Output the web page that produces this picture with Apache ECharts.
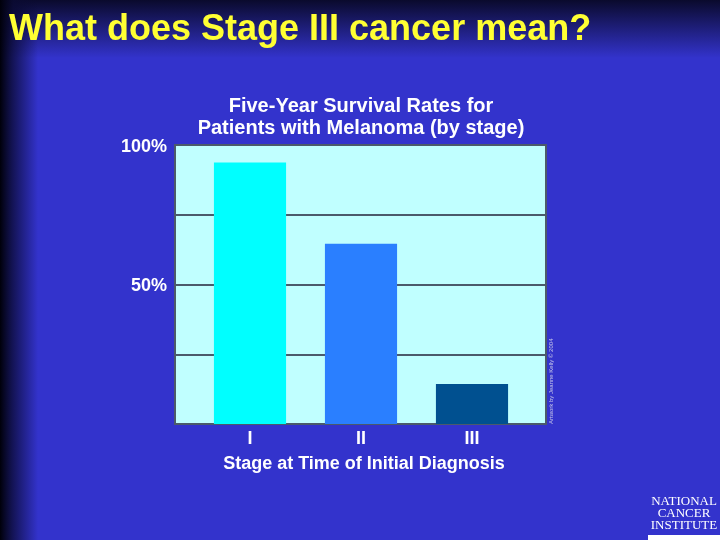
<!DOCTYPE html>
<html>
<head>
<meta charset="utf-8">
<script src="https://cdn.jsdelivr.net/npm/echarts@6/dist/echarts.min.js"></script>
<style>html,body{margin:0;padding:0;background:#3333cc;}#c{width:720px;height:540px;}</style>
</head>
<body>
<div id="c"></div>
<script>
var categories = ['I', 'II', 'III'];
var survival = [93.7, 64.6, 14.3];
var barColors = ['#00ffff', '#2a7fff', '#005090'];
var yTickLabels = {100: '100%', 50: '50%'};

var chart = echarts.init(document.getElementById('c'));
var F = 'Liberation Sans, Arial, sans-serif';
chart.setOption({
  backgroundColor: '#3333cc',
  animation: false,
  title: [{
    text: 'What does Stage III cancer mean?',
    left: 4, top: 7,
    textStyle: {color: '#ffff33', fontSize: 36, fontWeight: 'bold', fontFamily: F}
  }, {
    text: 'Five-Year Survival Rates for\nPatients with Melanoma (by stage)',
    left: 356, top: 90, textAlign: 'center',
    textStyle: {color: '#ffffff', fontSize: 20, fontWeight: 'bold', fontFamily: F, lineHeight: 22}
  }],
  graphic: [
    {type: 'rect', z: -10, silent: true, shape: {x: 0, y: 0, width: 720, height: 58},
      style: {fill: new echarts.graphic.LinearGradient(0, 0, 0, 1, [
        {offset: 0, color: 'rgba(8,8,36,0.95)'}, {offset: 1, color: 'rgba(8,8,36,0)'}])}},
    {type: 'rect', z: -10, silent: true, shape: {x: 0, y: 0, width: 38, height: 540},
      style: {fill: new echarts.graphic.LinearGradient(0, 0, 1, 0, [
        {offset: 0, color: 'rgba(0,0,10,1)'}, {offset: 0.35, color: 'rgba(10,10,50,0.75)'}, {offset: 1, color: 'rgba(10,10,50,0)'}])}},
    {type: 'text', z: 10, x: 554, y: 424, rotation: Math.PI / 2,
      style: {text: 'Artwork by Jeanne Kelly \u00a9 2004', fill: '#c8c8e8', fontSize: 6, fontFamily: F, textVerticalAlign: 'bottom'}},
    {type: 'rect', z: 5, shape: {x: 648, y: 535, width: 72, height: 5}, style: {fill: '#ffffff'}},
    {type: 'text', z: 10, x: 684, y: 496,
      style: {text: 'NATIONAL\nCANCER\nINSTITUTE', fill: '#ffffff', fontSize: 13, lineHeight: 12,
        fontFamily: 'Liberation Serif, serif', textAlign: 'center'}}
  ],
  grid: [
    {left: 175, top: 145, width: 371, height: 279, show: true, backgroundColor: '#c0ffff',
      borderColor: '#4b5a6b', borderWidth: 2, containLabel: false},
    {left: 194.5, top: 145, width: 333, height: 279, containLabel: false}
  ],
  xAxis: [
    {gridIndex: 0, type: 'category', data: categories, show: false},
    {gridIndex: 1, type: 'category', data: categories,
      axisLine: {show: false}, axisTick: {show: false},
      axisLabel: {color: '#ffffff', fontSize: 18, fontWeight: 'bold', fontFamily: F, margin: 6},
      name: 'Stage at Time of Initial Diagnosis', nameLocation: 'middle', nameGap: 31,
      nameTextStyle: {color: '#ffffff', fontSize: 18, fontWeight: 'bold', fontFamily: F, padding: [0, 0, 0, 6]}}
  ],
  yAxis: [
    {gridIndex: 0, type: 'value', min: 0, max: 100, interval: 25,
      axisLine: {show: false}, axisTick: {show: false},
      splitLine: {lineStyle: {color: '#4b5a6b', width: 2}},
      axisLabel: {color: '#ffffff', fontSize: 18, fontWeight: 'bold', fontFamily: F, margin: 8,
        verticalAlign: 'top', padding: [-7, 0, 0, 0],
        formatter: function (v) { return yTickLabels[v] || ''; }}},
    {gridIndex: 1, type: 'value', min: 0, max: 100, show: false, splitLine: {show: false}}
  ],
  series: [{
    type: 'bar', xAxisIndex: 1, yAxisIndex: 1, z: 3,
    barWidth: '65%',
    data: survival.map(function (v, i) { return {value: v, itemStyle: {color: barColors[i]}}; })
  }]
});
</script>
</body>
</html>
